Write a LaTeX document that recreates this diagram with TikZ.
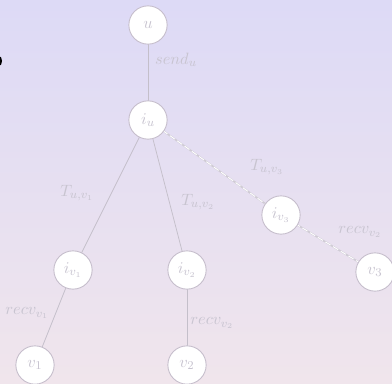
\documentclass[tikz,border=0pt]{standalone}
\usepackage{tikz}
\usetikzlibrary{positioning}
\definecolor{bgtop}{RGB}{221,218,246}
\definecolor{bgbottom}{RGB}{240,229,236}
\definecolor{nodeline}{RGB}{198,190,204}
\definecolor{edgegray}{RGB}{196,191,202}
\definecolor{labelgray}{RGB}{200,196,208}
\tikzset{
  %% ---- nodes ----
  hop/.style    = {circle, draw=nodeline, line width=0.6pt,
                   fill=white, minimum size=0.9cm, inner sep=0pt,
                   text=labelgray, font=\fontsize{11}{13}\selectfont},
  %% ---- edges ----
  link/.style   = {draw=edgegray, line width=0.5pt},
  droplink/.style = {draw=edgegray!80, line width=1.1pt},
  dropdash/.style = {draw=white, line width=0.6pt, dash pattern=on 4pt off 2pt},
  cost/.style   = {text=labelgray, font=\fontsize{11}{13}\selectfont},
}
\begin{document}
\begin{tikzpicture}[x=0.0235cm, y=-0.0235cm]

  %% background
  \clip (0,0) rectangle (392,384);
  \useasboundingbox (0,0) rectangle (392,384);
  \shade[top color=bgtop, bottom color=bgbottom] (0,0) rectangle (392,384);
  \fill[black] (-1,61) ellipse (3 and 5);

  %% edges first, nodes drawn on top
  \coordinate (pu)   at (148,25);
  \coordinate (piu)  at (148,120);
  \coordinate (piv1) at (73,270);
  \coordinate (piv2) at (187,270);
  \coordinate (piv3) at (281,215);
  \coordinate (pv1)  at (35,365);
  \coordinate (pv2)  at (187,365);
  \coordinate (pv3)  at (375,272);

  \draw[link] (pu) -- (piu);
  \draw[link] (piu) -- (piv1);
  \draw[link] (piu) -- (piv2);
  \draw[link] (piv1) -- (pv1);
  \draw[link] (piv2) -- (pv2);
  \draw[droplink] (piu) -- (piv3) -- (pv3);
  \draw[dropdash] (piu) -- (piv3) -- (pv3);

  %% hosts and interfaces
  \node[hop] (u)   at (pu)   {$u$};
  \node[hop] (iu)  at (piu)  {$i_u$};
  \node[hop] (iv1) at (piv1) {$i_{v_1}$};
  \node[hop] (iv2) at (piv2) {$i_{v_2}$};
  \node[hop] (iv3) at (piv3) {$i_{v_3}$};
  \node[hop] (v1)  at (pv1)  {$v_1$};
  \node[hop] (v2)  at (pv2)  {$v_2$};
  \node[hop] (v3)  at (pv3)  {$v_3$};

  %% edge costs
  \node[cost] (lsend)  at (176,60)  {$send_u$};
  \node[cost] (ltv1)   at (77,193)  {$T_{u,v_1}$};
  \node[cost] (ltv2)   at (198,202) {$T_{u,v_2}$};
  \node[cost] (ltv3)   at (267,167) {$T_{u,v_3}$};
  \node[cost] (lrecv3) at (360,232) {$recv_{v_2}$};
  \node[cost] (lrecv1) at (27,313)  {$recv_{v_1}$};
  \node[cost] (lrecv2) at (212,323) {$recv_{v_2}$};

\end{tikzpicture}
\end{document}
